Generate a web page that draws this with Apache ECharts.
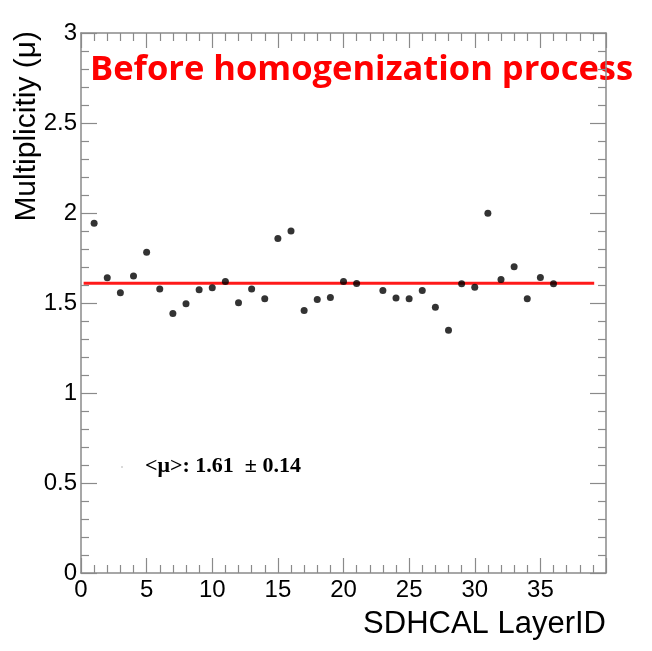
<!DOCTYPE html>
<html>
<head>
<meta charset="utf-8">
<script src="https://cdn.jsdelivr.net/npm/echarts@6/dist/echarts.min.js"></script>
<style>html,body{margin:0;padding:0;background:#fff;}#c{width:652px;height:651px;}</style>
</head>
<body>
<div id="c"></div>
<script>
const layerIds = [1,2,3,4,5,6,7,8,9,10,11,12,13,14,15,16,17,18,19,20,21,23,24,25,26,27,28,29,30,31,32,33,34,35,36];
const multiplicity = [1.943,1.640,1.557,1.650,1.782,1.578,1.441,1.496,1.574,1.585,1.619,1.502,1.578,1.524,1.859,1.900,1.459,1.519,1.531,1.619,1.608,1.570,1.528,1.524,1.570,1.476,1.348,1.607,1.587,1.998,1.630,1.702,1.524,1.641,1.607];
const meanValue = 1.61;
const meanError = 0.14;
const meanLineRange = [0.2, 39.1];
const xTicks = [0,5,10,15,20,25,30,35];
const yTicks = [0,0.5,1,1.5,2,2.5,3];

const chart = echarts.init(document.getElementById('c'), null, {renderer:'canvas'});
const axisGray = '#8a8a8a';
const sans = '"Liberation Sans",Arial,sans-serif';
function baseX(pos, labels){
  return {
    type:'value', position:pos, min:0, max:40, interval:5,
    axisLine:{show:true, onZero:false, lineStyle:{color:axisGray, width:1.5}},
    axisTick:{show:true, inside:true, length:15, lineStyle:{color:axisGray, width:1.2}},
    minorTick:{show:true, splitNumber:5, length:8, lineStyle:{color:axisGray, width:1.2}},
    splitLine:{show:false},
    axisLabel:{show:labels, color:'#000', fontFamily:sans, fontSize:24, margin:5,
      formatter: v => xTicks.indexOf(v) >= 0 ? String(v) : ''}
  };
}
function baseY(pos, labels){
  return {
    type:'value', position:pos, min:0, max:3, interval:0.5,
    axisLine:{show:true, onZero:false, lineStyle:{color:axisGray, width:1.5}},
    axisTick:{show:true, inside:true, length:16, lineStyle:{color:axisGray, width:1.2}},
    minorTick:{show:true, splitNumber:5, length:8, lineStyle:{color:axisGray, width:1.2}},
    splitLine:{show:false},
    axisLabel:{show:labels, color:'#000', fontFamily:sans, fontSize:24, margin:4,
      formatter: v => yTicks.indexOf(v) >= 0 ? String(v) : ''}
  };
}
const scatterData = layerIds.map((x,i)=>[x, multiplicity[i]]);
chart.setOption({
  animation:false,
  backgroundColor:'#fff',
  grid:{left:81, right:46, top:33, bottom:78, containLabel:false},
  xAxis:[baseX('bottom', true), baseX('top', false)],
  yAxis:[baseY('left', true), baseY('right', false)],
  series:[
    {type:'line', xAxisIndex:0, yAxisIndex:0, data:[[meanLineRange[0],meanValue],[meanLineRange[1],meanValue]],
     symbol:'none', lineStyle:{color:'#ff1a1a', width:3}, z:2},
    {type:'scatter', xAxisIndex:0, yAxisIndex:0, data:scatterData, symbolSize:7,
     itemStyle:{color:'#000'}, z:3}
  ],
  graphic:[
    {type:'text', left:90, top:53, style:{text:'Before homogenization process', fill:'#ff0000',
      font:'bold 34.5px "Open Sans", "Noto Sans", sans-serif'}},
    {type:'text', right:46, top:609, style:{text:'SDHCAL LayerID', fill:'#000',
      font:'31px '+sans}},
    {type:'text', x:12, y:31, rotation:Math.PI/2, style:{text:'Multiplicitiy (\u03bc)', fill:'#000',
      font:'30px '+sans, align:'right', verticalAlign:'top'}},
    {type:'text', left:145, top:455, style:{text:'<\u03bc>: '+meanValue.toFixed(2)+'  \u00b1 '+meanError.toFixed(2), fill:'#000',
      font:'bold 22px "Liberation Serif", "Times New Roman", serif'}},
    {type:'circle', shape:{cx:122, cy:467, r:0.8}, style:{fill:'#aaa'}}
  ]
});
</script>
</body>
</html>
